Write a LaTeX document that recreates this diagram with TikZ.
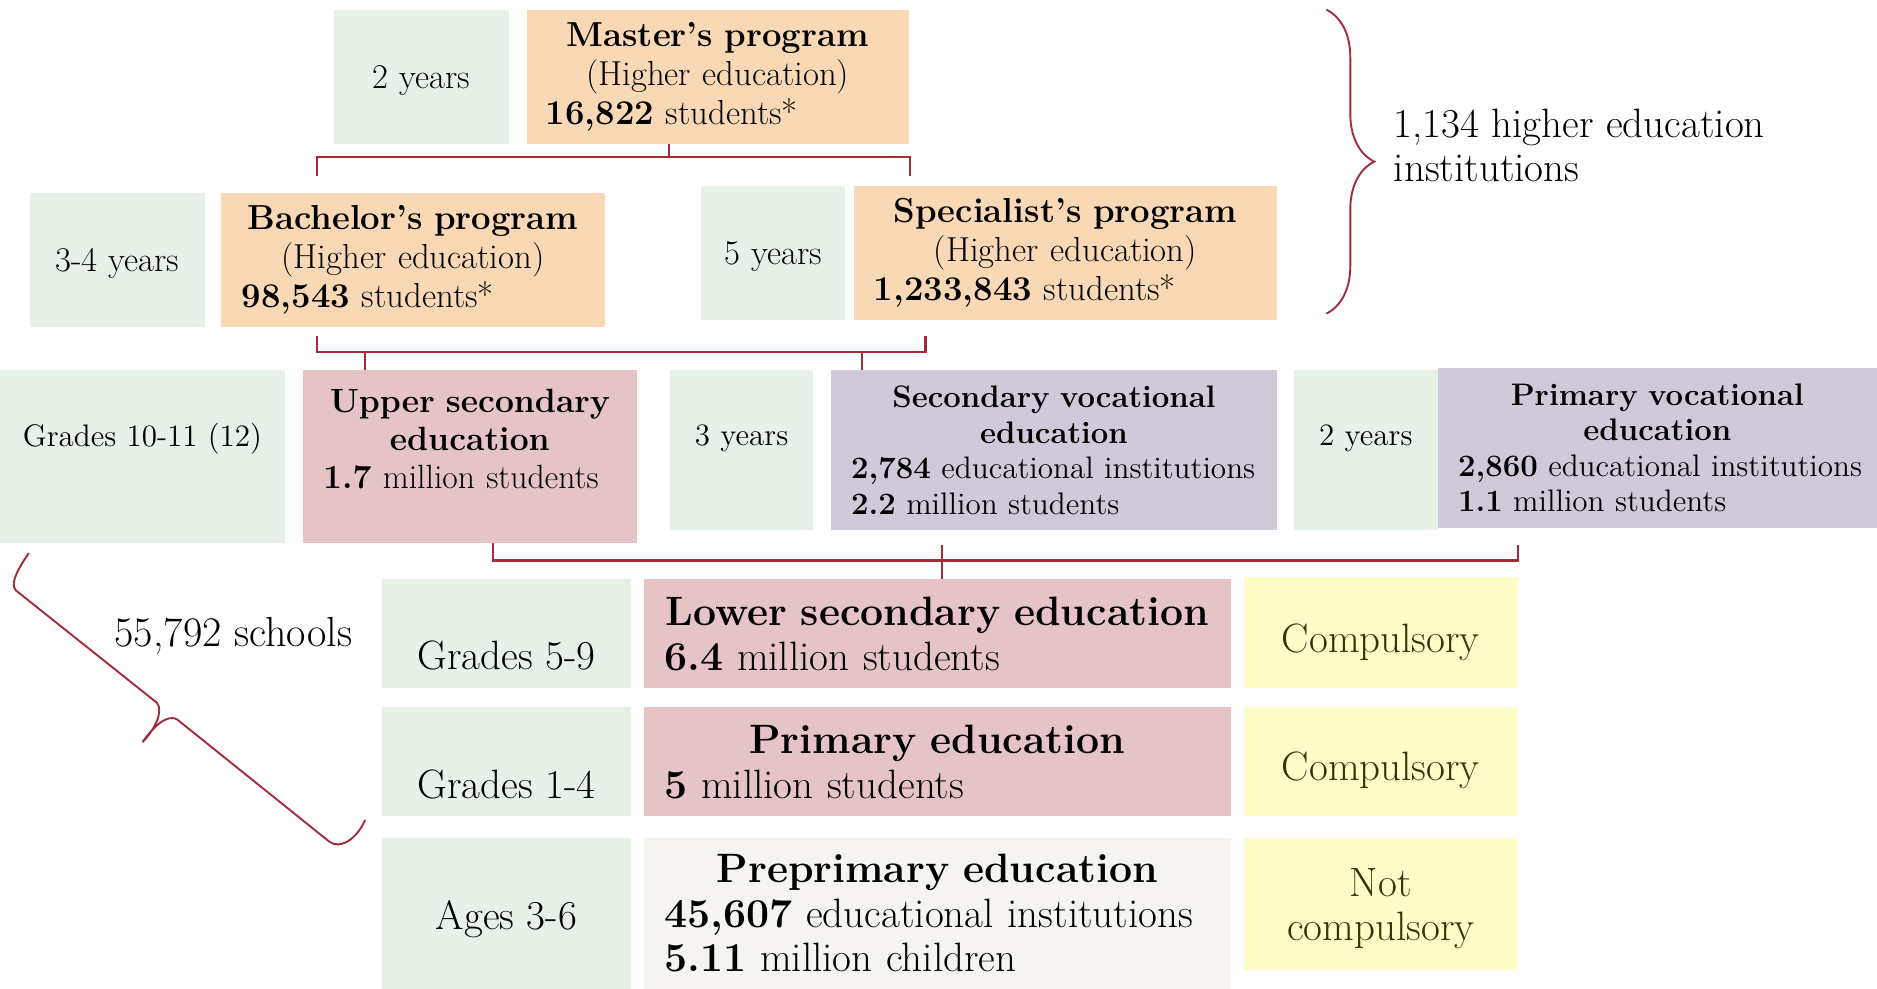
\documentclass[tikz,border=0pt]{standalone}
\usepackage{tikz}
\usetikzlibrary{positioning,decorations.pathreplacing}
\definecolor{yrsgreen}{HTML}{E8F1E7}
\definecolor{hedorange}{HTML}{F9D9B5}
\definecolor{schpink}{HTML}{E5C3C7}
\definecolor{vocpurple}{HTML}{CFC9D8}
\definecolor{reqyellow}{HTML}{FEFDC8}
\definecolor{reqtext}{HTML}{33330C}
\definecolor{pregray}{HTML}{F5F4F1}
\definecolor{linered}{HTML}{A52A3A}
\newcommand{\ctrline}[1]{\makebox[\linewidth]{#1}}
\newcommand{\nudge}[2]{\raisebox{#1}[\height][\depth]{#2}}
\tikzset{
   cellbox/.style n args = {4}{inner sep=0pt, outer sep=0pt,   % box from its two corners
                     minimum width={(#3-#1)*0.02cm}, minimum height={(#4-#2)*0.02cm},
                     at={({(#1+#3)/2},{(#2+#4)/2})}},
       yrs/.style = {fill=yrsgreen},
       hed/.style = {fill=hedorange},
       sch/.style = {fill=schpink},
       voc/.style = {fill=vocpurple},
       req/.style = {fill=reqyellow, text=reqtext},
       pre/.style = {fill=pregray},
        tw/.style = {text width=#1*0.02cm, align=left},
      ftop/.style = {font=\fontsize{16.5}{18.5}\selectfont},
      fmid/.style = {font=\fontsize{14.8}{16.9}\selectfont},
      fbot/.style = {font=\fontsize{19.5}{21.1}\selectfont},
      conn/.style = {draw=linered, line width=1.2pt},
       brc/.style = {draw=linered, line width=0.9pt},
        }
\begin{document}
\begin{tikzpicture}[x=0.02cm, y=-0.02cm]
\useasboundingbox (0,0) rectangle (1568,826);

% higher education
\node[yrs, ftop, cellbox={279}{8}{425}{120}] (y2a) {\nudge{-1.7pt}{2 years}};
\node[hed, ftop, tw=287, cellbox={440}{8}{759}{120}] (mas)
  {\ctrline{\bfseries Master’s program}\\ \ctrline{(Higher education)}\\
   \mbox{\textbf{16,822} students*}};
\node[yrs, ftop, cellbox={25}{161}{171}{273}] (y34) {\nudge{-1.7pt}{3-4 years}};
\node[hed, ftop, tw=286, cellbox={185}{161}{505}{273}] (bac)
  {\ctrline{\bfseries Bachelor’s program}\\ \ctrline{(Higher education)}\\
   \mbox{\textbf{98,543} students*}};
\node[yrs, ftop, cellbox={586}{155}{706}{267}] (y5) {\nudge{-1.7pt}{5 years}};
\node[hed, ftop, tw=320, cellbox={713}{155}{1067}{267}] (spe)
  {\ctrline{\bfseries Specialist’s program}\\ \ctrline{(Higher education)}\\
   \mbox{\textbf{1,233,843} students*}};

\coordinate (bt) at (1108,8);
\coordinate (bb) at (1108,262);
\draw[brc, decorate, decoration={brace, amplitude=0.8cm}] (bt) -- (bb);
\node[font=\fontsize{19.5}{21}\selectfont, inner sep=0pt, anchor=west, align=left] (hei)
  at (1164,121.5) {1,134 higher education\\institutions};

% secondary
\node[yrs, fmid, cellbox={0}{309}{238}{454}] (g1011)
  {\nudge{8.5pt}{Grades 10-11 (12)}};
\node[sch, font=\fontsize{16}{18}\selectfont, tw=245, cellbox={253}{309}{532}{454}] (ups)
  {\ctrline{\bfseries Upper secondary}\\ \ctrline{\bfseries education}\\
   \mbox{\textbf{1.7} million students}\rule[-17pt]{0pt}{0pt}};
\node[yrs, fmid, cellbox={560}{309}{679}{443}] (y3) {\nudge{5.5pt}{3 years}};
\node[voc, fmid, tw=339, cellbox={694}{309}{1067}{443}] (svoc)
  {\ctrline{\bfseries Secondary vocational}\\ \ctrline{\bfseries education}\\
   \mbox{\textbf{2,784} educational institutions}\\ \mbox{\textbf{2.2} million students}};
\node[yrs, fmid, cellbox={1081}{309}{1201}{443}] (y2b) {\nudge{5.5pt}{2 years}};
\node[voc, fmid, tw=333, cellbox={1201}{307}{1568}{441}] (pvoc)
  {\ctrline{\bfseries Primary vocational}\\ \ctrline{\bfseries education}\\
   \mbox{\textbf{2,860} educational institutions}\\ \mbox{\textbf{1.1} million students}};

% schools
\node[font=\fontsize{20}{22}\selectfont, inner sep=0pt] (sch55) at (195,531) {55,792 schools};
\node[yrs, fbot, cellbox={319}{484}{527}{575}] (g59) {\nudge{-10.5pt}{Grades 5-9}};
\node[sch, fbot, tw=456, cellbox={538}{484}{1028}{575}] (lsec)
  {\ctrline{\bfseries Lower secondary education}\\ \mbox{\textbf{6.4} million students}};
\node[req, fbot, cellbox={1039}{482}{1268}{575}] (cmp1) {\nudge{-4.5pt}{Compulsory}};
\node[yrs, fbot, cellbox={319}{591}{527}{682}] (g14) {\nudge{-10.5pt}{Grades 1-4}};
\node[sch, fbot, tw=456, cellbox={538}{591}{1028}{682}] (prim)
  {\ctrline{\bfseries Primary education}\\ \mbox{\textbf{5} million students}};
\node[req, fbot, cellbox={1039}{591}{1268}{682}] (cmp2) {\nudge{-4pt}{Compulsory}};
\node[yrs, fbot, cellbox={319}{700}{527}{826}] (a36) {\nudge{-2.8pt}{Ages 3-6}};
\node[pre, fbot, tw=456, cellbox={538}{700}{1028}{826}] (ppre)
  {\ctrline{\bfseries Preprimary education}\\
   \mbox{\textbf{45,607} educational institutions}\\ \mbox{\textbf{5.11} million children}};
\node[req, fbot, align=center, cellbox={1039}{700}{1268}{810}] (cmp3)
  {\rule{0pt}{18pt}Not\\compulsory};

% connectors
\coordinate (m0) at (559,131);
\coordinate (m1) at (265,131);
\coordinate (m2) at (760,131);
\draw[conn] (m0 |- mas.south) -- (m0);
\draw[conn] (m1) ++(0,16) -- (m1) -- (m2) -- ++(0,16);

\coordinate (b1) at (265,294);
\coordinate (b2) at (773,294);
\coordinate (t1) at (305,294);
\coordinate (t2) at (720,294);
\draw[conn] (b1) ++(0,-13) -- (b1) -- (b2) -- ++(0,-13);
\draw[conn] (t1) -- (t1 |- ups.north);
\draw[conn] (t2) -- (t2 |- svoc.north);

\coordinate (s1) at (412,468);
\coordinate (s2) at (1268,468);
\coordinate (s3) at (787,455);
\draw[conn] (s1 |- ups.south) -- (s1) -- (s2) -- ++(0,-13);
\draw[conn] (s3) -- (s3 |- lsec.north);

% brace over the schools
\coordinate (l1) at (24,462);
\coordinate (l2) at (305,685);
\draw[brc] (l1) .. controls (16,474) and (8,487) .. (13,493) -- (131,587)
  .. controls (137,594) and (129,610) .. (119,620)
  .. controls (128,607) and (140,596) .. (148,601) -- (275,703)
  .. controls (284,710) and (298,701) .. (l2);
\end{tikzpicture}
\end{document}
